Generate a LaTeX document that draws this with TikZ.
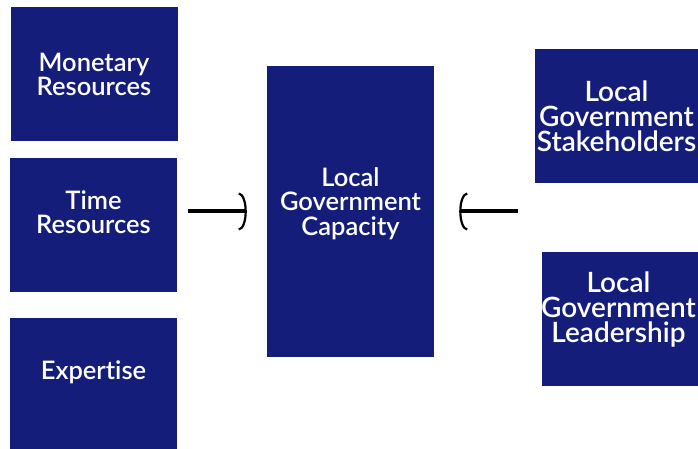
\documentclass[tikz,border=0pt]{standalone}
\usepackage{fontspec}
\setmainfont{Lato}[BoldFont={Lato Semibold}, Ligatures=NoCommon]
\usetikzlibrary{arrows.meta}
\definecolor{navy}{RGB}{21,29,122}

\tikzset{
  box/.style={fill=navy, draw=none, minimum width=167pt, minimum height=134pt, inner sep=0pt},
  txt/.style={text=white, align=center, font=\bfseries\fontsize{25.5}{24.5}\selectfont, inner sep=0pt},
  bigtxt/.style={txt, font=\bfseries\fontsize{28}{25}\selectfont},
  push/.style={line width=4pt, shorten <=#1,
    -{Arc Barb[length=8pt, width=38pt, line width=2.2pt]}}
}

\begin{document}
\begin{tikzpicture}[x=1pt, y=1pt]
    \useasboundingbox (0,0) rectangle (698,449);
    % resources on the left
    \node[box] (money) at (94,374.5) {};
    \node[box] (time) at (93.5,224) {};
    \node[box] (expert) at (93.5,64) {};
    % capacity in the middle
    \node[box, minimum height=291pt] (cap) at (350.5,237.5) {};
    % people on the right
    \node[box] (stake) at (618.5,333) {};
    \node[box] (lead) at (625.5,130) {};

    \node[txt] (money-t) at (money.center) {Monetary\\Resources};
    \node[txt] (time-t) at ([yshift=13pt]time.center) {Time\\Resources};
    \node[txt] (expert-t) at ([yshift=13pt]expert.center) {Expertise};
    \node[txt] (cap-t) at ([yshift=8pt]cap.center) {Local\\Government\\Capacity};
    \node[bigtxt] (stake-t) at ([xshift=-2pt]stake.center) {Local\\Government\\Stakeholders};
    \node[bigtxt] (lead-t) at ([xshift=-7pt, yshift=9pt]lead.center) {Local\\Government\\Leadership};

    \draw[push=11pt, shorten >=20pt] (time.east |- cap.center) -- (cap.west);
    \draw[push=17pt, shorten >=25pt] (stake.west |- cap.center) -- (cap.east);
\end{tikzpicture}
\end{document}
